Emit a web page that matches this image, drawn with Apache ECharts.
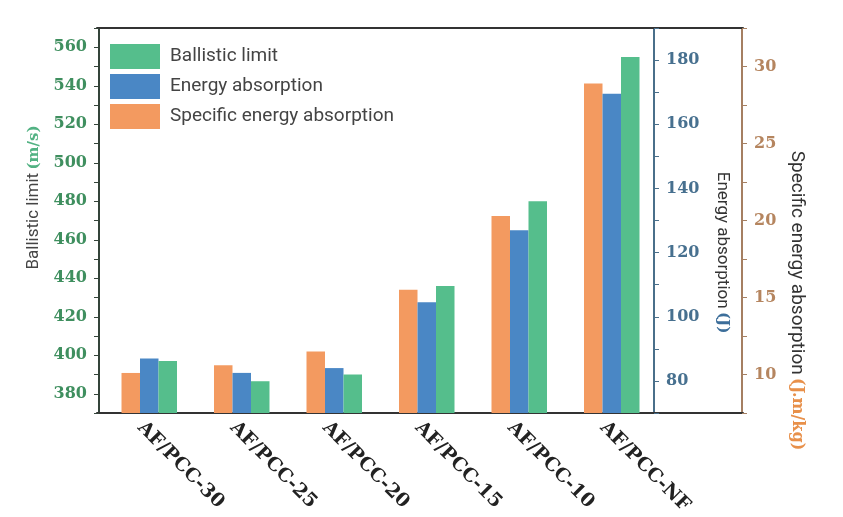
<!DOCTYPE html>
<html>
<head>
<meta charset="utf-8">
<script src="https://cdn.jsdelivr.net/npm/echarts@6/dist/echarts.min.js"></script>
<style>
html,body{margin:0;padding:0;background:#fff;}
#chart{width:843px;height:517px;}
</style>
</head>
<body>
<div id="chart"></div>
<script>
// ---- data ----
var categories = ['AF/PCC-30', 'AF/PCC-25', 'AF/PCC-20', 'AF/PCC-15', 'AF/PCC-10', 'AF/PCC-NF'];
var ballisticLimit = [397, 386.5, 390, 436, 480, 555];          // m/s
var energyAbsorption = [87, 82.5, 84, 104.5, 127, 169.5];       // J
var specificEnergy = [10.1, 10.6, 11.5, 15.5, 20.3, 28.9];      // J.m/kg
var legendNames = ['Ballistic limit', 'Energy absorption', 'Specific energy absorption'];

// ---- styles ----
var cOrange = '#f39a60', cBlue = '#4a87c5', cGreen = '#55be8c';
var serif = 'DejaVu Serif';
var sans = 'Roboto';

var chart = echarts.init(document.getElementById('chart'), null, {renderer: 'canvas'});

function labelEvery(step) {
  return function (v) {
    var r = Math.round(v * 100) / 100;
    return (Math.abs(r / step - Math.round(r / step)) < 1e-6) ? String(r) : '';
  };
}

var option = {
  backgroundColor: '#ffffff',
  animation: false,
  legend: {
    data: legendNames,
    orient: 'vertical',
    left: 105,
    top: 39,
    itemWidth: 50,
    itemHeight: 25,
    itemGap: 5,
    icon: 'rect',
    textStyle: {fontFamily: sans, fontSize: 19, color: '#444', padding: [0, 0, 0, 5]}
  },
  grid: [
    {left: 97, right: 100, top: 28, bottom: 104, outerBoundsMode: 'none', containLabel: false},
    {left: 103, right: 185, top: 28, bottom: 104, outerBoundsMode: 'none', containLabel: false}
  ],
  xAxis: [
    {gridIndex: 0, type: 'value', position: 'bottom', min: 0, max: 1,
     axisLine: {show: true, lineStyle: {color: '#333', width: 2}},
     axisTick: {show: false}, axisLabel: {show: false}, splitLine: {show: false}},
    {gridIndex: 0, type: 'value', position: 'top', min: 0, max: 1,
     axisLine: {show: true, lineStyle: {color: '#333', width: 2}},
     axisTick: {show: false}, axisLabel: {show: false}, splitLine: {show: false}},
    {gridIndex: 1, type: 'category', data: categories, position: 'bottom',
     axisLine: {show: false}, axisTick: {show: false},
     axisLabel: {interval: 0, rotate: -45, margin: 3,
                 formatter: function (v) { return '{t|' + v + '}'; },
                 rich: {t: {padding: [25, 0, 0, 0], fontFamily: serif, fontWeight: 'bold',
                            fontSize: 19, color: '#222'}},
                 fontFamily: serif, fontWeight: 'bold', fontSize: 19, color: '#222'}}
  ],
  yAxis: [
    {gridIndex: 0, type: 'value', show: false, min: 0, max: 1},
    {gridIndex: 1, type: 'value', position: 'left', offset: 4, min: 370, max: 570, interval: 10,
     name: '{a|Ballistic limit} {b|(m/s)}', nameLocation: 'middle', nameGap: 52, nameRotate: 90,
     nameTextStyle: {padding: [0, 0, 0, 46], rich: {
       a: {fontFamily: sans, fontSize: 17, color: '#444'},
       b: {fontFamily: serif, fontWeight: 'bold', fontSize: 15, color: '#52b283'}}},
     axisLine: {show: true, lineStyle: {color: '#34443a', width: 2}},
     axisTick: {show: true, inside: false, length: 5, lineStyle: {color: '#34443a'}},
     axisLabel: {margin: 12, formatter: labelEvery(20), fontFamily: serif, fontWeight: 'bold',
                 fontSize: 16, color: '#3f8f5f'},
     splitLine: {show: false}},
    {gridIndex: 1, type: 'value', position: 'right', offset: -4, min: 70, max: 190, interval: 10,
     name: '{a|Energy absorption} {b|(J)}', nameLocation: 'middle', nameGap: 60, nameRotate: -90,
     nameTextStyle: {padding: [0, 0, 0, 64], rich: {
       a: {fontFamily: sans, fontSize: 17, color: '#333'},
       b: {fontFamily: serif, fontWeight: 'bold', fontSize: 15, color: '#3c6e9a'}}},
     axisLine: {show: true, lineStyle: {color: '#4a6f8a', width: 2}},
     axisTick: {show: true, inside: false, length: 5, lineStyle: {color: '#4a6f8a'}},
     axisLabel: {margin: 12, formatter: labelEvery(20), fontFamily: serif, fontWeight: 'bold',
                 fontSize: 16, color: '#47708f'},
     splitLine: {show: false}},
    {gridIndex: 1, type: 'value', position: 'right', offset: 84, min: 7.5, max: 32.5, interval: 2.5,
     name: '{a|Specific energy absorption} {b|(J.m/kg)}', nameLocation: 'middle', nameGap: 31, nameRotate: -90,
     nameTextStyle: {padding: [0, 0, 0, 160], rich: {
       a: {fontFamily: sans, fontSize: 19, color: '#333'},
       b: {fontFamily: serif, fontWeight: 'bold', fontSize: 16, color: '#e8904a'}}},
     axisLine: {show: true, lineStyle: {color: '#a57f62', width: 2}},
     axisTick: {show: true, inside: false, length: 5, lineStyle: {color: '#a57f62'}},
     axisLabel: {margin: 12, formatter: labelEvery(5), fontFamily: serif, fontWeight: 'bold',
                 fontSize: 16, color: '#b5855f'},
     splitLine: {show: false}}
  ],
  series: [
    {name: legendNames[2], type: 'bar', xAxisIndex: 2, yAxisIndex: 3, data: specificEnergy,
     barWidth: 18.5, barGap: '0%', itemStyle: {color: cOrange}},
    {name: legendNames[1], type: 'bar', xAxisIndex: 2, yAxisIndex: 2, data: energyAbsorption,
     barWidth: 18.5, barGap: '0%', itemStyle: {color: cBlue}},
    {name: legendNames[0], type: 'bar', xAxisIndex: 2, yAxisIndex: 1, data: ballisticLimit,
     barWidth: 18.5, barGap: '0%', itemStyle: {color: cGreen}}
  ]
};
chart.setOption(option);
</script>
</body>
</html>
